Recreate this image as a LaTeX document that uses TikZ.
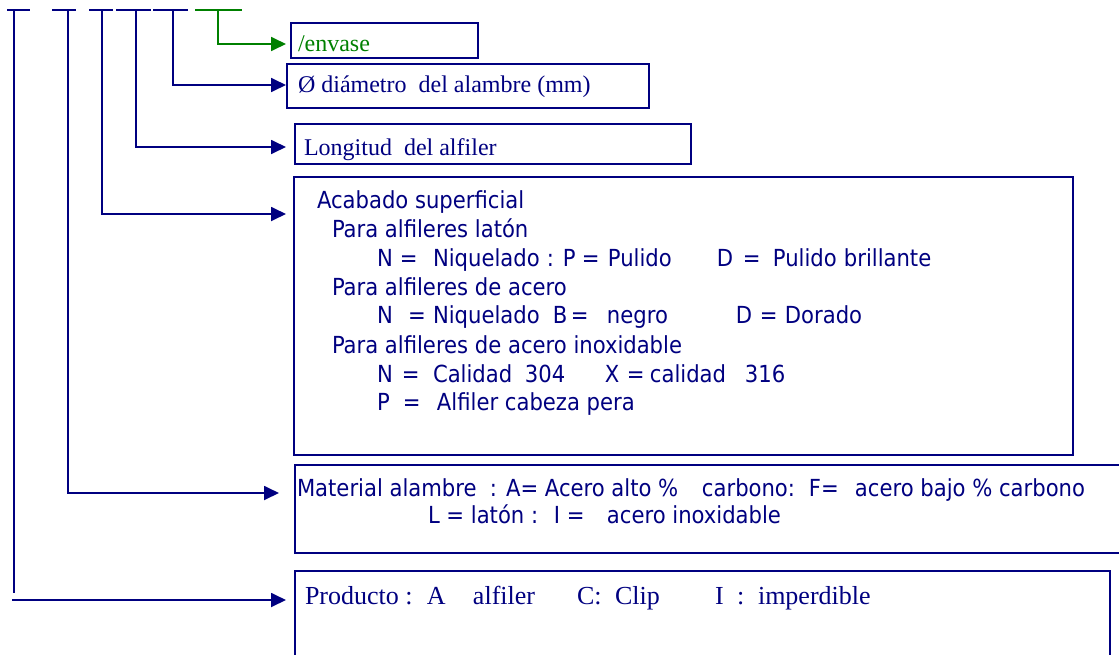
\documentclass[tikz,border=0pt]{standalone}
\usepackage{fontspec}
\setmainfont{Liberation Serif}
\newfontfamily\tahoma{DejaVu Sans Condensed}
\usetikzlibrary{arrows.meta}
\definecolor{navy}{RGB}{0,0,128}
\definecolor{grn}{RGB}{0,128,0}
\newcommand{\cell}[2]{\makebox[#1pt][l]{#2}}
\tikzset{
  box/.style={draw=navy, line width=2.2pt, anchor=north west, inner sep=0pt, outer sep=0pt},
  lbl/.style={anchor=base west, inner sep=0pt, outer sep=0pt, text=navy, font=\fontsize{24}{29}\selectfont},
  plbl/.style={lbl, font=\fontsize{26}{31}\selectfont},
  slbl/.style={lbl, font=\tahoma\fontsize{23.5}{28}\selectfont},
  wire/.style={draw=navy, line width=1.8pt},
  conn/.style={wire, -{Triangle[length=15pt,width=14pt]}},
  bar/.style={draw=navy, line width=2pt},
}
\begin{document}
\begin{tikzpicture}[x=1pt,y=-1pt]
\useasboundingbox (0,0) rectangle (1119,654);
\clip (0,0) rectangle (1119,654);

% top bars
\draw[bar] (7,10) -- (30,10);
\draw[bar] (52,10) -- (76,10);
\draw[bar] (89,10) -- (113,10);
\draw[bar] (116,10) -- (151,10);
\draw[bar] (153,10) -- (188,10);
\draw[bar, draw=grn] (195,10) -- (242,10);
\coordinate (v1) at (14,10);
\coordinate (v2) at (68,10);
\coordinate (v3) at (102,10);
\coordinate (v4) at (136,10);
\coordinate (v5) at (173,10);
\coordinate (v6) at (218,10);

% boxes
\node[box, minimum width=187pt, minimum height=35pt] (envase) at (291,23) {};
\node[box, minimum width=362pt, minimum height=44pt] (diam) at (287,64) {};
\node[box, minimum width=396pt, minimum height=40pt] (long) at (295,124) {};
\node[box, minimum width=779pt, minimum height=278pt] (acab) at (294,177) {};
\node[box, minimum width=840pt, minimum height=88pt] (mat) at (295,465) {};
\node[box, minimum width=815pt, minimum height=110pt] (prod) at (295,571) {};

% arrow levels
\coordinate (y6) at (0,44);
\coordinate (y5) at (0,85);
\coordinate (y4) at (0,147);
\coordinate (y3) at (0,214);
\coordinate (y2) at (0,493);
\coordinate (y1) at (0,600);
\coordinate (p1) at (12,600);
\coordinate (e1) at (14,593);

% connectors
\draw[conn, draw=grn, shorten >=5pt] (v6) |- (envase.west |- y6);
\draw[conn, shorten >=1pt] (v5) |- (diam.west |- y5);
\draw[conn, shorten >=9pt] (v4) |- (long.west |- y4);
\draw[conn, shorten >=8pt] (v3) |- (acab.west |- y3);
\draw[conn, shorten >=16pt] (v2) |- (mat.west |- y2);
\draw[wire] (v1) -- (e1);
\draw[conn, shorten >=9pt] (p1) -- (prod.west |- y1);

% texts
\node[lbl, text=grn] (t1) at (298,51) {/envase};
\node[lbl] (t2) at (298,92) {Ø diámetro~ del alambre (mm)};
\node[lbl] (t3) at (304,155) {Longitud~ del alfiler};

\node[slbl] (a1) at (317,208) {Acabado superficial};
\node[slbl] (a2) at (332,237) {Para alfileres latón};
\node[slbl] (a3) at (377,266) {\cell{23}{N}\cell{33}{=}\cell{114}{Niquelado}\cell{16}{:}\cell{19}{P}\cell{26}{=}\cell{109}{Pulido}\cell{26}{D}\cell{30}{=}\cell{71}{Pulido}brillante};
\node[slbl] (a4) at (332,295) {Para alfileres de acero};
\node[slbl] (a5) at (377,323) {\cell{31}{N}\cell{25}{=}\cell{120}{Niquelado}\cell{18}{B}\cell{36}{=}\cell{129}{negro}\cell{24}{D}\cell{25}{=}Dorado};
\node[slbl] (a6) at (332,353) {Para alfileres de acero inoxidable};
\node[slbl] (a7) at (377,382) {\cell{25}{N}\cell{31}{=}\cell{92}{Calidad}\cell{80}{304}\cell{22}{X}\cell{23}{=}\cell{95}{calidad}316};
\node[slbl] (a8) at (377,410) {\cell{26}{P}\cell{34}{=}Alfiler cabeza pera};

\node[slbl] (m1) at (297,496) {\cell{405}{Material alambre~ : A= Acero alto \%}\cell{107}{carbono:}\cell{46}{F=}acero bajo \% carbono};
\node[slbl] (m2) at (428,523) {\cell{179}{L = latón :~ I =}acero inoxidable};

\node[plbl] (pt) at (305,604) {\cell{122}{Producto :}\cell{46}{A}\cell{104}{alfiler}\cell{38}{C:}\cell{100}{Clip}\cell{22}{I}\cell{21}{:}imperdible};
\end{tikzpicture}
\end{document}
